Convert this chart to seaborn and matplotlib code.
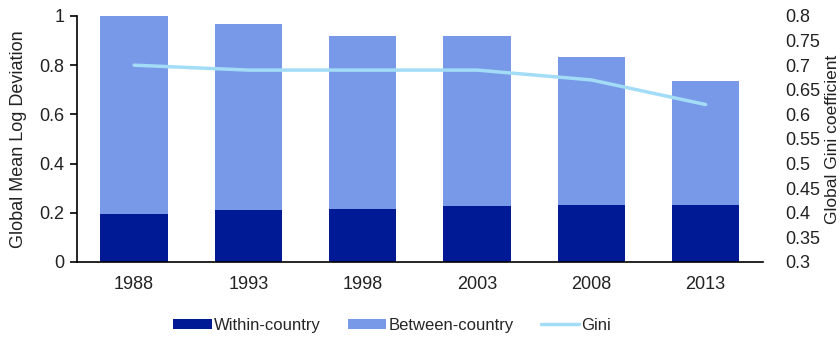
import matplotlib
matplotlib.use("Agg")
import matplotlib.pyplot as plt
from matplotlib.patches import Patch
from matplotlib.lines import Line2D
import seaborn as sns
import pandas as pd
import numpy as np

years = ["1988", "1993", "1998", "2003", "2008", "2013"]
within_country = [0.195, 0.211, 0.215, 0.227, 0.232, 0.232]
between_country = [0.805, 0.755, 0.704, 0.692, 0.603, 0.505]
gini = [0.70, 0.69, 0.69, 0.69, 0.67, 0.62]

dark_blue = "#001a96"
light_blue = "#7899e8"
line_blue = "#a3dcf7"

sns.set_style("white")
plt.rcParams["font.family"] = ["Liberation Sans", "DejaVu Sans"]
plt.rcParams["font.size"] = 13

df = pd.DataFrame({
    "year": years,
    "within": within_country,
    "between": between_country,
    "gini": gini,
})
df["total"] = df["within"] + df["between"]

fig = plt.figure(figsize=(8.4, 3.37), dpi=100)
ax = fig.add_axes([0.0917, 0.2226, 0.8163, 0.73])

# stacked bars: full height in light blue, within-country share drawn over it
sns.barplot(data=df, x="year", y="total", color=light_blue, width=0.59,
            saturation=1, linewidth=0, ax=ax, order=years)
sns.barplot(data=df, x="year", y="within", color=dark_blue, width=0.59,
            saturation=1, linewidth=0, ax=ax, order=years)

ax.set_xlim(-0.5, len(years) - 0.5)
ax.set_ylim(0, 1)
ax.set_yticks([0, 0.2, 0.4, 0.6, 0.8, 1.0])
ax.set_yticklabels(["0", "0.2", "0.4", "0.6", "0.8", "1"])
ax.set_xlabel("")
ax.set_ylabel("Global Mean Log Deviation", fontsize=13, color="#222222",
              labelpad=9)
for s in ["top", "right"]:
    ax.spines[s].set_visible(False)
for s in ["left", "bottom"]:
    ax.spines[s].set_color("black")
    ax.spines[s].set_linewidth(1.2)
ax.tick_params(axis="y", direction="out", length=5, width=1.2, color="black",
               labelcolor="#222222", pad=4)
ax.set_xticks(np.arange(len(years)))
ax.set_xticklabels(years)
ax.set_xticks(np.arange(len(years) + 1) - 0.5, minor=True)
ax.tick_params(axis="x", which="major", length=0, pad=10, labelcolor="#222222")
ax.tick_params(axis="x", which="minor", direction="out", length=5, width=1.2,
               color="black")

# Gini on the secondary axis
ax2 = ax.twinx()
sns.lineplot(x=np.arange(len(years)), y=df["gini"], color=line_blue,
             linewidth=2.5, ax=ax2)
ax2.set_ylim(0.3, 0.8)
ax2.set_yticks(np.arange(0.3, 0.801, 0.05))
ax2.set_yticklabels(["0.3", "0.35", "0.4", "0.45", "0.5", "0.55", "0.6",
                     "0.65", "0.7", "0.75", "0.8"])
ax2.set_ylabel("Global Gini coefficient", fontsize=12.5, color="#222222",
               rotation=90, va="center", ha="center")
ax2.yaxis.set_label_coords(1.1015, 0.5)
for s in ax2.spines.values():
    s.set_visible(False)
ax2.tick_params(axis="y", length=0, pad=16, labelcolor="#222222")
ax2.set_xlim(-0.5, len(years) - 0.5)

handles = [
    Patch(facecolor=dark_blue, edgecolor="none", label="Within-country"),
    Patch(facecolor=light_blue, edgecolor="none", label="Between-country"),
    Line2D([0], [0], color=line_blue, linewidth=2.5, label="Gini"),
]
fig.legend(handles=handles, loc="center", bbox_to_anchor=(0.467, 0.035),
           ncol=3, frameon=False, fontsize=12, handlelength=2.3,
           handleheight=0.6, handletextpad=0.15, columnspacing=1.6)

fig.savefig("out.png", dpi=100)
